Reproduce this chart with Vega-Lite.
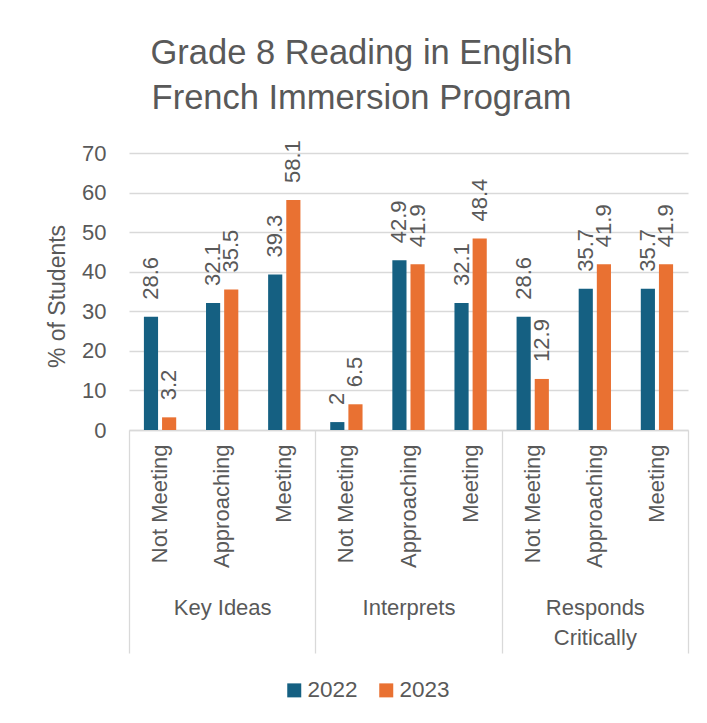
{
  "$schema": "https://vega.github.io/schema/vega-lite/v6.json",
  "width": 559,
  "height": 277,
  "autosize": {"type": "none"},
  "padding": {"left": 129, "top": 153, "right": 19, "bottom": 293},
  "background": "white",
  "title": {
    "text": ["Grade 8 Reading in English", "French Immersion Program"],
    "font": "Liberation Sans",
    "fontSize": 34.5,
    "fontWeight": "normal",
    "color": "#595959",
    "lineHeight": 45,
    "anchor": "middle",
    "dx": -47,
    "offset": 24
  },
  "data": {
    "values": [
      {"group": "Key Ideas", "level": "Not Meeting", "cat": "Key Ideas|Not Meeting", "year": "2022", "value": 28.6},
      {"group": "Key Ideas", "level": "Not Meeting", "cat": "Key Ideas|Not Meeting", "year": "2023", "value": 3.2},
      {"group": "Key Ideas", "level": "Approaching", "cat": "Key Ideas|Approaching", "year": "2022", "value": 32.1},
      {"group": "Key Ideas", "level": "Approaching", "cat": "Key Ideas|Approaching", "year": "2023", "value": 35.5},
      {"group": "Key Ideas", "level": "Meeting", "cat": "Key Ideas|Meeting", "year": "2022", "value": 39.3},
      {"group": "Key Ideas", "level": "Meeting", "cat": "Key Ideas|Meeting", "year": "2023", "value": 58.1},
      {"group": "Interprets", "level": "Not Meeting", "cat": "Interprets|Not Meeting", "year": "2022", "value": 2},
      {"group": "Interprets", "level": "Not Meeting", "cat": "Interprets|Not Meeting", "year": "2023", "value": 6.5},
      {"group": "Interprets", "level": "Approaching", "cat": "Interprets|Approaching", "year": "2022", "value": 42.9},
      {"group": "Interprets", "level": "Approaching", "cat": "Interprets|Approaching", "year": "2023", "value": 41.9},
      {"group": "Interprets", "level": "Meeting", "cat": "Interprets|Meeting", "year": "2022", "value": 32.1},
      {"group": "Interprets", "level": "Meeting", "cat": "Interprets|Meeting", "year": "2023", "value": 48.4},
      {"group": "Responds Critically", "level": "Not Meeting", "cat": "Responds Critically|Not Meeting", "year": "2022", "value": 28.6},
      {"group": "Responds Critically", "level": "Not Meeting", "cat": "Responds Critically|Not Meeting", "year": "2023", "value": 12.9},
      {"group": "Responds Critically", "level": "Approaching", "cat": "Responds Critically|Approaching", "year": "2022", "value": 35.7},
      {"group": "Responds Critically", "level": "Approaching", "cat": "Responds Critically|Approaching", "year": "2023", "value": 41.9},
      {"group": "Responds Critically", "level": "Meeting", "cat": "Responds Critically|Meeting", "year": "2022", "value": 35.7},
      {"group": "Responds Critically", "level": "Meeting", "cat": "Responds Critically|Meeting", "year": "2023", "value": 41.9}
    ]
  },
  "layer": [
    {
      "encoding": {
        "x": {
          "field": "cat",
          "type": "nominal",
          "sort": null,
          "scale": {"type": "band", "paddingInner": 0.48, "paddingOuter": 0.24},
          "axis": {
            "title": null,
            "orient": "bottom",
            "labelExpr": "split(datum.label, '|')[1]",
            "labelAngle": -90,
            "labelPadding": 14,
            "ticks": false,
            "domainColor": "#D9D9D9",
            "domainWidth": 1.3,
            "labelFont": "Liberation Sans",
            "labelFontSize": 22,
            "labelColor": "#595959",
            "labelLimit": 300,
            "grid": false
          }
        },
        "xOffset": {
          "field": "year",
          "type": "nominal",
          "scale": {"paddingInner": 0.22, "paddingOuter": 0}
        },
        "y": {
          "field": "value",
          "type": "quantitative",
          "scale": {"domain": [0, 70], "nice": false},
          "axis": {
            "title": "% of Students",
            "values": [0, 10, 20, 30, 40, 50, 60, 70],
            "domain": false,
            "ticks": false,
            "grid": true,
            "gridColor": "#D9D9D9",
            "gridWidth": 1.3,
            "labelPadding": 23,
            "labelFont": "Liberation Sans",
            "labelFontSize": 22,
            "labelColor": "#595959",
            "titleFont": "Liberation Sans",
            "titleFontSize": 23,
            "titleFontWeight": "normal",
            "titleColor": "#595959",
            "titleX": -72,
            "titleY": 143,
            "titleAngle": -90,
            "titleAlign": "center",
            "titleBaseline": "middle"
          }
        }
      },
      "layer": [
        {
          "mark": {"type": "bar"},
          "encoding": {
            "color": {
              "field": "year",
              "type": "nominal",
              "scale": {"domain": ["2022", "2023"], "range": ["#156082", "#E97132"]},
              "legend": {
                "title": null,
                "orient": "none",
                "direction": "horizontal",
                "legendX": 154,
                "legendY": 526,
                "symbolType": "square",
                "symbolSize": 196,
                "symbolStrokeWidth": 0,
                "labelFont": "Liberation Sans",
                "labelFontSize": 22.5,
                "labelColor": "#595959",
                "labelOffset": 2,
                "columnPadding": 17,
                "padding": 0
              }
            }
          }
        },
        {
          "mark": {
            "type": "text",
            "angle": 270,
            "align": "left",
            "baseline": "middle",
            "dx": 17,
            "font": "Liberation Sans",
            "fontSize": 22,
            "color": "#595959"
          },
          "encoding": {
            "text": {"field": "value", "type": "quantitative", "format": ".1~f"}
          }
        }
      ]
    },
    {
      "mark": {"type": "point", "opacity": 0},
      "encoding": {
        "x": {
          "field": "group",
          "type": "nominal",
          "sort": null,
          "scale": {"type": "band", "paddingInner": 0, "paddingOuter": 0},
          "axis": {
            "title": null,
            "orient": "bottom",
            "domain": false,
            "grid": false,
            "ticks": true,
            "tickBand": "extent",
            "tickSize": 223,
            "tickColor": "#D9D9D9",
            "tickWidth": 1.3,
            "labelAngle": 0,
            "labelAlign": "center",
            "labelBaseline": "top",
            "labelPadding": -56,
            "labelLineHeight": 30,
            "labelExpr": "datum.label == 'Responds Critically' ? ['Responds', 'Critically'] : datum.label",
            "labelFont": "Liberation Sans",
            "labelFontSize": 22,
            "labelColor": "#595959",
            "labelLimit": 300
          }
        }
      }
    }
  ],
  "resolve": {"scale": {"x": "independent"}, "axis": {"x": "independent"}},
  "config": {"view": {"stroke": null}}
}
